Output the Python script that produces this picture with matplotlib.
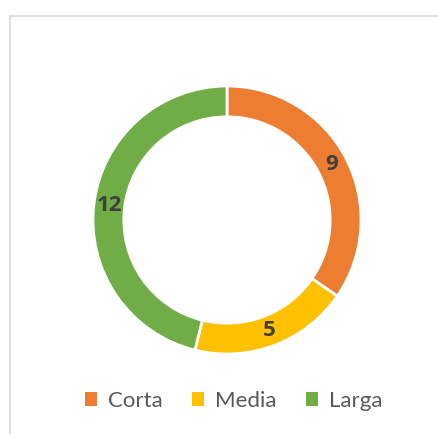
import matplotlib
matplotlib.use("Agg")
import matplotlib.pyplot as plt
from matplotlib.lines import Line2D
from matplotlib.patches import Patch

categories = ["Corta", "Media", "Larga"]
values = [9, 5, 12]
colors = ["#ED7D31", "#FFC000", "#70AD47"]

plt.rcParams['font.family'] = ['Lato', 'DejaVu Sans']

W, H = 438, 434
fig = plt.figure(figsize=(W / 100, H / 100), dpi=100)

# frame lines
fig.add_artist(Line2D([9.5 / W, 9.5 / W], [0, 1 - 15.5 / H], color="#D9D9D9", lw=1.2))
fig.add_artist(Line2D([9.5 / W, 1], [1 - 15.5 / H, 1 - 15.5 / H], color="#D9D9D9", lw=1.2))

cx, cy, r = 227, 220, 134
ax = fig.add_axes([(cx - r) / W, (H - cy - r) / H, 2 * r / W, 2 * r / H])
width = 0.23
total = sum(values)
wedges, texts, autotexts = ax.pie(
    values, colors=colors, startangle=90, counterclock=False,
    wedgeprops=dict(width=width, edgecolor="white", linewidth=2),
    autopct=lambda p: f"{round(p * total / 100):d}", pctdistance=1 - width / 2,
    textprops=dict(fontsize=16, fontweight="bold", color="#404040",
                   family=["Open Sans", "DejaVu Sans"]),
)
ax.set_xlim(-1, 1)
ax.set_ylim(-1, 1)
ax.set_aspect("equal")
ax.axis("off")

handles = [Patch(facecolor=c, edgecolor="none") for c in colors]
fig.legend(handles, categories, loc="center", bbox_to_anchor=(0.534, 1 - 401 / H),
           ncol=3, frameon=False, fontsize=16, labelcolor="#595959",
           handlelength=0.55, handleheight=0.55, handletextpad=0.5, columnspacing=1.3)

fig.savefig("out.png", dpi=100)
